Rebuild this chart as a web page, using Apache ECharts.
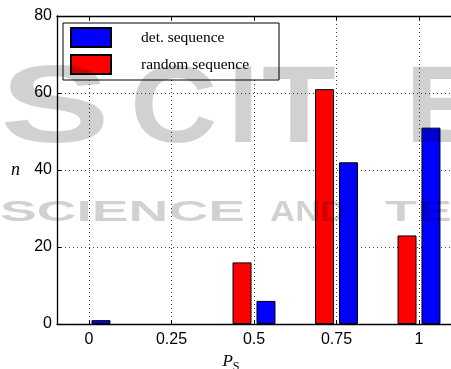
<!DOCTYPE html>
<html>
<head>
<meta charset="utf-8">
<script src="https://cdn.jsdelivr.net/npm/echarts@6/dist/echarts.min.js"></script>
<style>
  html, body { margin: 0; padding: 0; background: #fff; }
</style>
</head>
<body>
<div id="main" style="width: 451px;height:369px;"></div>
<script>
// P_S values and counts n
var categories = [0, 0.25, 0.5, 0.75, 1];
var detSeq = [1, 0, 6, 42, 51];
var randomSeq = [0, 0, 16, 61, 23];

// empty bins draw nothing (the bar would sit on the axis anyway)
function pairs(vals) {
    return categories.map(function (c, i) { return [c, vals[i] === 0 ? null : vals[i]]; });
}

var myChart = echarts.init(document.getElementById('main'));

var sans = 'Liberation Sans, Arial, sans-serif';
var serif = 'Liberation Serif, Times New Roman, serif';
var wm = 'rgba(0,0,0,0.18)';

// publisher watermark drawn over the plot
function mark(text, x, y, size, sx) {
    return {
        type: 'text', z: 100, silent: true, x: x, y: y, scaleX: sx,
        style: { text: text, font: 'bold ' + size + 'px ' + sans, fill: wm, verticalAlign: 'middle', align: 'left' }
    };
}

var gridLine = { show: true, lineStyle: { color: '#444', type: [1, 3], width: 1 } };

option = {
    animation: false,
    backgroundColor: '#fff',
    graphic: [
        mark('S', 0, 112, 110, 1.5),
        mark('C', 130, 112, 110, 1.1),
        mark('I', 228, 112, 110, 1),
        mark('T', 262, 112, 110, 1.1),
        mark('E', 405, 112, 110, 1.1),
        mark('SCIENCE', 0, 213, 29, 1.9),
        mark('AND', 270, 213, 29, 1.2),
        mark('TE', 385, 213, 29, 1.8)
    ],
    grid: {
        left: 57,
        right: 0,
        top: 16,
        bottom: 45,
        containLabel: false,
        outerBoundsMode: 'none'
    },
    legend: {
        orient: 'vertical',
        left: 63,
        top: 23,
        padding: [4, 30, 5, 7],
        itemGap: 6,
        itemWidth: 40,
        itemHeight: 19,
        borderColor: '#000',
        borderWidth: 1,
        icon: 'rect',
        backgroundColor: '#fff',
        textStyle: { fontFamily: serif, fontSize: 15.5, color: '#000', padding: [0, 0, 0, 25] },
        data: ['det. sequence', 'random sequence']
    },
    xAxis: [{
        type: 'value',
        min: -0.097,
        max: 1.097,
        name: '{p|P}{s|S}',
        nameLocation: 'middle',
        nameGap: 17,
        nameTextStyle: {
            padding: [0, 46, 0, 0],
            rich: {
                p: { fontFamily: serif, fontStyle: 'italic', fontSize: 17, color: '#000' },
                s: { fontFamily: serif, fontSize: 12, color: '#000', padding: [10, 0, 0, 0] }
            }
        },
        axisLine: { show: true, onZero: false, lineStyle: { color: '#000', width: 1.3 } },
        axisTick: { show: true, inside: true, length: 4, customValues: categories, lineStyle: { color: '#000' } },
        axisLabel: { customValues: categories, margin: 8, fontFamily: sans, fontSize: 16, color: '#000' },
        splitLine: gridLine
    }, {
        type: 'value',
        position: 'top',
        min: -0.097,
        max: 1.097,
        axisLine: { show: true, onZero: false, lineStyle: { color: '#000', width: 1.3 } },
        axisTick: { show: true, inside: true, length: 4, customValues: categories, lineStyle: { color: '#000' } },
        axisLabel: { show: false },
        splitLine: { show: false }
    }],
    yAxis: {
        type: 'value',
        min: 0,
        max: 80,
        interval: 20,
        name: 'n',
        nameLocation: 'middle',
        nameRotate: 0,
        nameGap: 37,
        nameTextStyle: { fontFamily: serif, fontStyle: 'italic', fontSize: 18, color: '#000' },
        axisLine: { show: true, onZero: false, lineStyle: { color: '#000', width: 1.3 } },
        axisTick: { show: true, inside: true, length: 4, lineStyle: { color: '#000' } },
        axisLabel: { margin: 5, fontFamily: sans, fontSize: 16, color: '#000' },
        splitLine: gridLine
    },
    series: [{
        name: 'random sequence',
        type: 'bar',
        barWidth: 19,
        barGap: '26%',
        itemStyle: { color: '#ff0000', borderColor: '#000', borderWidth: 1 },
        data: pairs(randomSeq)
    }, {
        name: 'det. sequence',
        type: 'bar',
        barWidth: 19,
        barGap: '26%',
        itemStyle: { color: '#0000ff', borderColor: '#000', borderWidth: 1 },
        data: pairs(detSeq)
    }]
};
myChart.setOption(option);
</script>
</body>
</html>
